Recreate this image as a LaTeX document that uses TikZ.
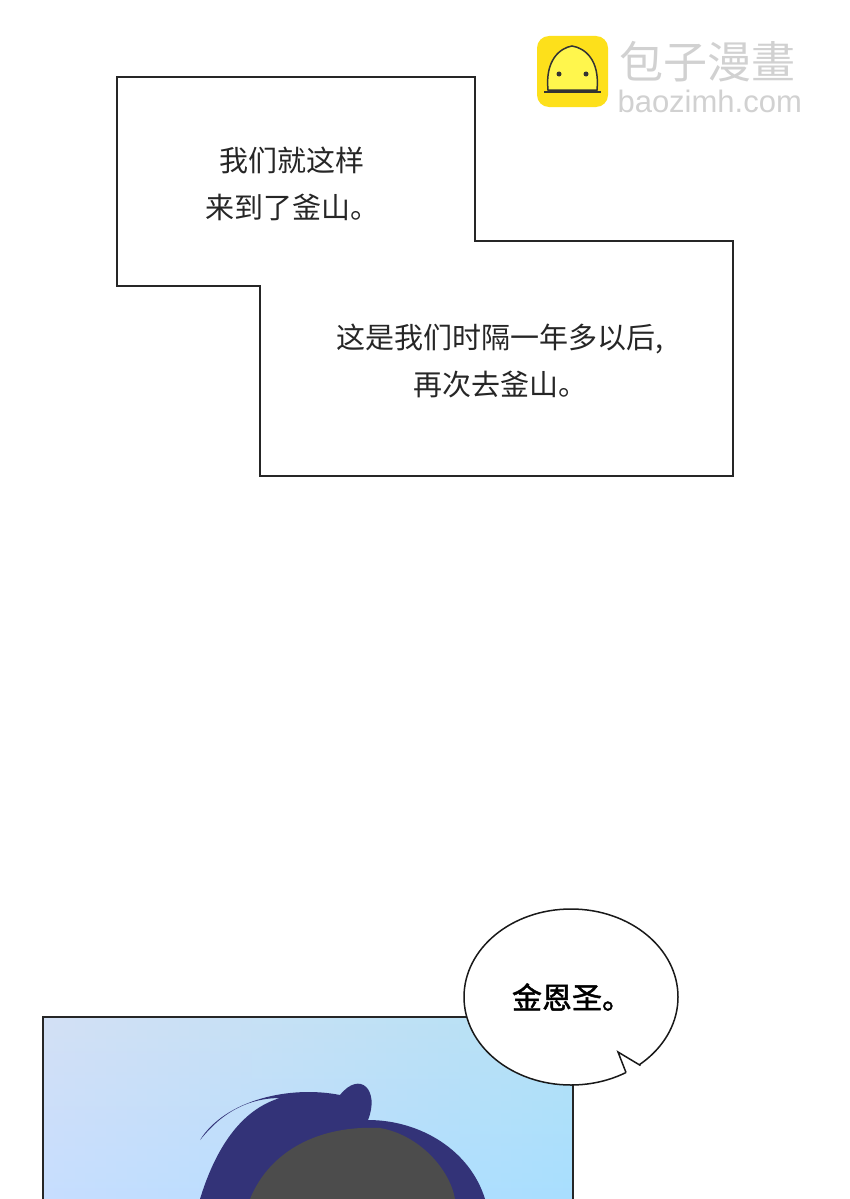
\documentclass[tikz,border=0pt]{standalone}
\usepackage{fontspec}
\newfontfamily\cjk{Noto Sans CJK SC}
\newfontfamily\cjkb[FakeBold=1.5]{Noto Sans CJK SC}
\begin{document}
\begin{tikzpicture}[x=1pt,y=-1pt,
  captext/.style={font=\cjk\fontsize{29}{47}\selectfont,align=center,text=black!85},
  capbox/.style={draw=black!85,line width=1.6pt,fill=white}]
\useasboundingbox (0,0) rectangle (850,1199);
\fill[white] (0,0) rectangle (850,1199);
% logo
\fill[yellow!80!orange!90,rounded corners=12pt] (537,36) rectangle (608,107);
\fill[yellow!70!white,draw=black!80,line width=1.5pt] (548,90) .. controls (545,60) and (560,48) .. (572,46) .. controls (585,48) and (600,60) .. (597,90) -- cycle;
\draw[black!80,line width=2pt] (544,92) -- (601,92);
\fill[black!80] (559,74) circle (2.5) (586,74) circle (2.5);
\node[font=\cjk\fontsize{44}{44}\selectfont,text=black!18,anchor=west] (logot) at (616,62) {包子漫畫};
\node[font=\fontspec{Liberation Sans}\fontsize{31}{31}\selectfont,text=black!18,anchor=west] (logou) at (614,101) {baozimh.com};
% caption box
\draw[capbox] (117,77) -- (475,77) -- (475,241) -- (733,241) -- (733,476) -- (260,476) -- (260,286) -- (117,286) -- cycle;
\node[captext] (t1) at (292,184) {我们就这样\\来到了釜山。};
\node[captext] (t2) at (500,361) {这是我们时隔一年多以后,\\再次去釜山。};
% panel
\shade[top color=blue!30!cyan!20!white!90!black, bottom color=blue!45!cyan!40!white] (43,1017) rectangle (573,1199);
\shade[left color=blue!10!white,right color=blue!30!cyan!30!white,opacity=0.6] (43,1017) rectangle (573,1199);
\fill[black!55!blue!60!gray] (200,1199) .. controls (215,1150) and (240,1110) .. (280,1098) .. controls (230,1098) and (205,1135) .. (200,1140) .. controls (225,1100) and (290,1085) .. (340,1095) .. controls (360,1070) and (380,1090) .. (368,1120) .. controls (420,1120) and (470,1150) .. (485,1199) -- cycle;
\fill[black!40!gray] (250,1199) .. controls (270,1150) and (320,1125) .. (380,1128) .. controls (420,1135) and (450,1170) .. (455,1199) -- cycle;
\draw[black!85,line width=2.4pt] (43,1199) -- (43,1017) -- (573,1017) -- (573,1199);
% bubble
\draw[black!90,line width=1.5pt,fill=white] (571,997) ellipse (107 and 88);
\fill[white] (626,1072) -- (618,1052) -- (640,1065) -- (646,1076) -- (630,1081) -- cycle;
\draw[black!90,line width=1.5pt,line join=miter] (626,1072.5) -- (618,1052) -- (640.5,1065.5);
\node[font=\cjkb\fontsize{30}{30}\selectfont] (b1) at (572,997) {金恩圣。};
\end{tikzpicture}
\end{document}
